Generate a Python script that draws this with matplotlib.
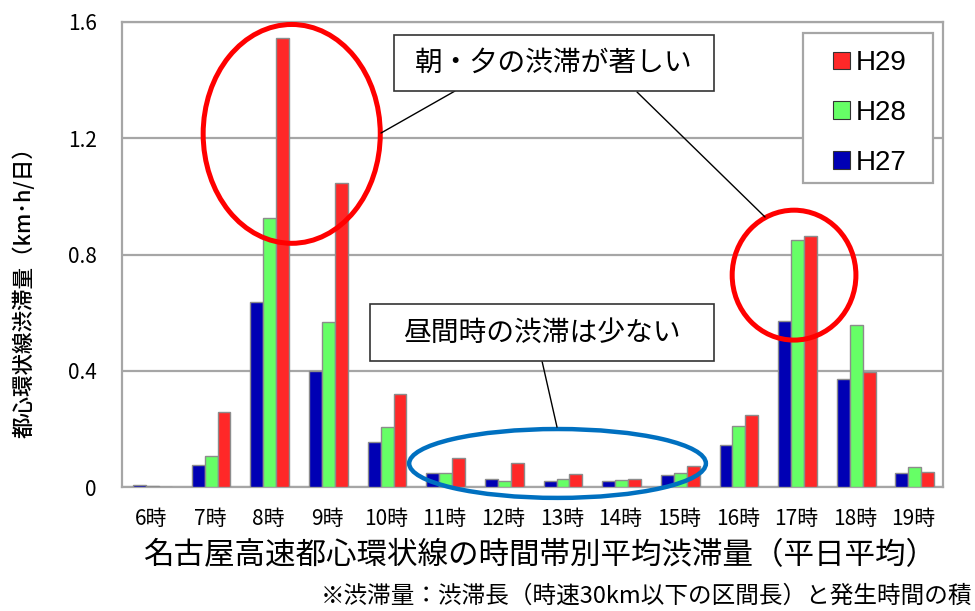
import matplotlib
matplotlib.use("Agg")
import matplotlib.pyplot as plt
from matplotlib.patches import Ellipse, Rectangle, Patch
import numpy as np

plt.rcParams['font.family'] = ['Noto Sans CJK JP', 'DejaVu Sans']

hours = ["6時", "7時", "8時", "9時", "10時", "11時", "12時", "13時", "14時",
         "15時", "16時", "17時", "18時", "19時"]
h27 = [0.008, 0.076, 0.636, 0.400, 0.154, 0.047, 0.027, 0.022, 0.021, 0.041, 0.144, 0.571, 0.372, 0.047]
h28 = [0.004, 0.107, 0.925, 0.568, 0.207, 0.047, 0.022, 0.028, 0.024, 0.047, 0.210, 0.850, 0.557, 0.070]
h29 = [0.000, 0.258, 1.545, 1.046, 0.320, 0.099, 0.082, 0.044, 0.027, 0.073, 0.248, 0.863, 0.394, 0.050]
series = ["H27", "H28", "H29"]
yticks = [0, 0.4, 0.8, 1.2, 1.6]
ytick_labels = ["0", "0.4", "0.8", "1.2", "1.6"]

colors = {"H27": "#0000B4", "H28": "#66FF66", "H29": "#FF2828"}
W, H = 975, 611


def fx(px):
    return px / W


def fy(py):
    return 1 - py / H


fig = plt.figure(figsize=(9.75, 6.11), dpi=100)
ax = fig.add_axes([fx(122), fy(487), (943 - 122) / W, (487 - 22) / H])

x = np.arange(len(hours))
bw = 0.22
for k, (name, vals) in enumerate(zip(series, [h27, h28, h29])):
    ax.bar(x + (k - 1) * bw + 0.02, vals, bw, color=colors[name],
           edgecolor="#8C8C8C", linewidth=1.0, zorder=3)

ax.set_xlim(-0.5, len(hours) - 0.5)
ax.set_ylim(0, 1.6)
ax.set_yticks(yticks)
ax.set_yticklabels(ytick_labels, fontsize=15)
ax.set_xticks(x)
ax.set_xticklabels(hours, fontsize=15)
ax.tick_params(axis='x', length=0, pad=15)
ax.tick_params(axis='y', length=0, pad=18)
ax.grid(axis='y', color="#A6A6A6", linewidth=1.6, zorder=0)
for s in ax.spines.values():
    s.set_color("#A6A6A6")
    s.set_linewidth(1.6)

# legend box
fig.patches.append(Rectangle((fx(803), fy(183)), (933 - 803) / W, (183 - 33) / H,
                             transform=fig.transFigure, facecolor="white",
                             edgecolor="#A6A6A6", linewidth=1.6, zorder=5))
handles = [Patch(facecolor=colors[n], edgecolor="#333333", linewidth=0.8) for n in series[::-1]]
leg = fig.legend(handles, series[::-1], loc="upper left",
                 bbox_to_anchor=(fx(814), fy(31)), frameon=False,
                 prop={'family': 'Liberation Sans', 'size': 20},
                 handlelength=0.6, handleheight=0.6, handletextpad=0.2,
                 labelspacing=0.85, borderpad=0.2)
leg.set_zorder(6)

# ellipses
ax.add_patch(Ellipse((2.394, 1.215), 3.02, 0.753, fill=False, edgecolor="#FF0000",
                     linewidth=3.6, zorder=4, clip_on=False))
ax.add_patch(Ellipse((10.96, 0.729), 2.11, 0.447, fill=False, edgecolor="#FF0000",
                     linewidth=3.6, zorder=4, clip_on=False))
ax.add_patch(Ellipse((6.927, 0.081), 5.06, 0.237, fill=False, edgecolor="#0070C0",
                     linewidth=3.2, zorder=4, clip_on=False))

# callout boxes
for (l, t, r, b), txt in [((394, 35, 714, 91), "朝・夕の渋滞が著しい"),
                          ((370, 304, 714, 361), "昼間時の渋滞は少ない")]:
    fig.patches.append(Rectangle((fx(l), fy(b)), (r - l) / W, (b - t) / H,
                                 transform=fig.transFigure, facecolor="white",
                                 edgecolor="#333333", linewidth=1.2, zorder=5))
    fig.text(fx((l + r) / 2), fy((t + b) / 2), txt, fontsize=20,
             ha="center", va="center", zorder=6)

for (px, py), (dx, dy) in [((455, 91), (3.917, 1.218)),
                           ((637, 92), (10.465, 0.929)),
                           ((542, 361), (6.918, 0.206))]:
    ax.annotate("", xy=(dx, dy), xycoords="data",
                xytext=(fx(px), fy(py)), textcoords="figure fraction",
                arrowprops=dict(arrowstyle="-", color="black", lw=1.0,
                                shrinkA=0, shrinkB=0), zorder=4)

fig.text(fx(24), fy(287), "都心環状線渋滞量（km･h/日）", rotation=90,
         fontsize=15.5, ha="center", va="center", fontweight="medium")
fig.text(fx(540), fy(556), "名古屋高速都心環状線の時間帯別平均渋滞量（平日平均）",
         fontsize=22, ha="center", va="center")
fig.text(fx(972), fy(596), "※渋滞量：渋滞長（時速30km以下の区間長）と発生時間の積",
         fontsize=17, ha="right", va="center")

fig.savefig("out.png", dpi=100)
